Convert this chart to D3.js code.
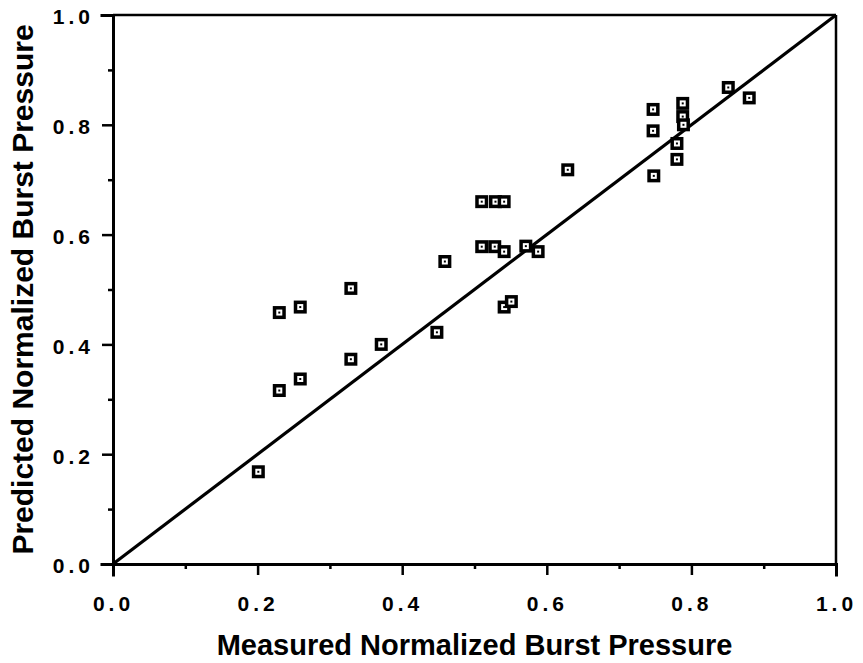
<!DOCTYPE html>
<html>
<head>
<meta charset="utf-8">
<script src="https://cdn.jsdelivr.net/npm/d3@7"></script>
<style>
  html, body { margin: 0; padding: 0; background: #fff; }
  svg { display: block; }
</style>
</head>
<body>
<svg id="chart" width="863" height="663"></svg>
<script>
// ---- data ----
const measured  = [0.201, 0.230, 0.259, 0.230, 0.259, 0.329, 0.329, 0.371, 0.459, 0.448,
                   0.510, 0.528, 0.510, 0.529, 0.541, 0.541, 0.571, 0.588, 0.541, 0.551,
                   0.629, 0.747, 0.747, 0.748, 0.788, 0.788, 0.789, 0.780, 0.780, 0.851, 0.880];
const predicted = [0.168, 0.316, 0.337, 0.458, 0.468, 0.502, 0.373, 0.400, 0.551, 0.422,
                   0.578, 0.578, 0.660, 0.660, 0.660, 0.569, 0.579, 0.569, 0.468, 0.478,
                   0.718, 0.828, 0.789, 0.707, 0.839, 0.815, 0.800, 0.766, 0.737, 0.868, 0.849];
const majorTicks = [0, 0.2, 0.4, 0.6, 0.8, 1.0];
const minorTicks = [0.1, 0.3, 0.5, 0.7, 0.9];
const tickLabels = ["0.0", "0.2", "0.4", "0.6", "0.8", "1.0"];
const identityLine = [[0, 0], [1, 1]];
const xTitle = "Measured Normalized Burst Pressure";
const yTitle = "Predicted Normalized Burst Pressure";

// ---- layout ----
const svg = d3.select("#chart");
const x = d3.scaleLinear().domain([0, 1]).range([113, 836]);
const y = d3.scaleLinear().domain([0, 1]).range([564, 15]);
const FONT = "'Liberation Sans', Arial, Helvetica, sans-serif";

// frame (top and right)
svg.append("line").attr("x1", x(0)).attr("x2", x(1)).attr("y1", y(1)).attr("y2", y(1))
  .attr("stroke", "#000").attr("stroke-width", 2.5);
svg.append("line").attr("x1", x(1)).attr("x2", x(1)).attr("y1", y(1)).attr("y2", y(0))
  .attr("stroke", "#000").attr("stroke-width", 2.5);

// x axis
const fmt = d => tickLabels[majorTicks.indexOf(d)];
const gx = svg.append("g").attr("transform", `translate(0,${y(0)})`)
  .call(d3.axisBottom(x).tickValues(majorTicks).tickSize(11).tickPadding(21).tickFormat(fmt));
const gxm = svg.append("g").attr("transform", `translate(0,${y(0)})`)
  .call(d3.axisBottom(x).tickValues(minorTicks).tickSize(5).tickFormat(""));
gxm.select(".domain").remove();

// y axis
const gy = svg.append("g").attr("transform", `translate(${x(0)},0)`)
  .call(d3.axisLeft(y).tickValues(majorTicks).tickSize(11).tickPadding(8).tickFormat(fmt));
const gym = svg.append("g").attr("transform", `translate(${x(0)},0)`)
  .call(d3.axisLeft(y).tickValues(minorTicks).tickSize(5).tickFormat(""));
gym.select(".domain").remove();

[gx, gy].forEach(g => {
  g.select(".domain").attr("stroke-width", 3).attr("stroke", "#000");
  g.selectAll("text").attr("font-family", FONT).attr("font-size", 21)
    .attr("font-weight", "bold").attr("fill", "#000").style("letter-spacing", "4px");
});
gx.selectAll("text").attr("y", 47).attr("dy", "0");
gy.selectAll("text").attr("dy", "0.42em");
[gx, gxm, gy, gym].forEach(g => g.selectAll(".tick line").attr("stroke", "#000").attr("stroke-width", 2.5));
svg.selectAll(".domain").attr("stroke-linecap", "square");

// identity line
svg.append("path").datum(identityLine)
  .attr("d", d3.line().x(d => x(d[0])).y(d => y(d[1])))
  .attr("fill", "none").attr("stroke", "#000").attr("stroke-width", 3.2);

// points
const pts = svg.append("g").selectAll("g").data(measured.map((m, i) => [m, predicted[i]]))
  .join("g").attr("transform", d => `translate(${x(d[0])},${y(d[1])})`);
pts.append("rect").attr("x", -6.5).attr("y", -6.5).attr("width", 13).attr("height", 13).attr("fill", "#000");
pts.append("rect").attr("x", -3).attr("y", -3).attr("width", 6).attr("height", 6).attr("fill", "#fff");
pts.append("rect").attr("x", -1).attr("y", -1).attr("width", 2).attr("height", 2).attr("fill", "#000");

// titles
svg.append("text").attr("x", (x(0) + x(1)) / 2).attr("y", 655)
  .attr("text-anchor", "middle").attr("font-family", FONT).attr("font-size", 29)
  .attr("font-weight", "bold").attr("fill", "#000").text(xTitle);
svg.append("text").attr("transform", `translate(33,${(y(0) + y(1)) / 2}) rotate(-90)`)
  .attr("text-anchor", "middle").attr("font-family", FONT).attr("font-size", 30)
  .attr("font-weight", "bold").attr("fill", "#000").text(yTitle);
</script>
</body>
</html>
